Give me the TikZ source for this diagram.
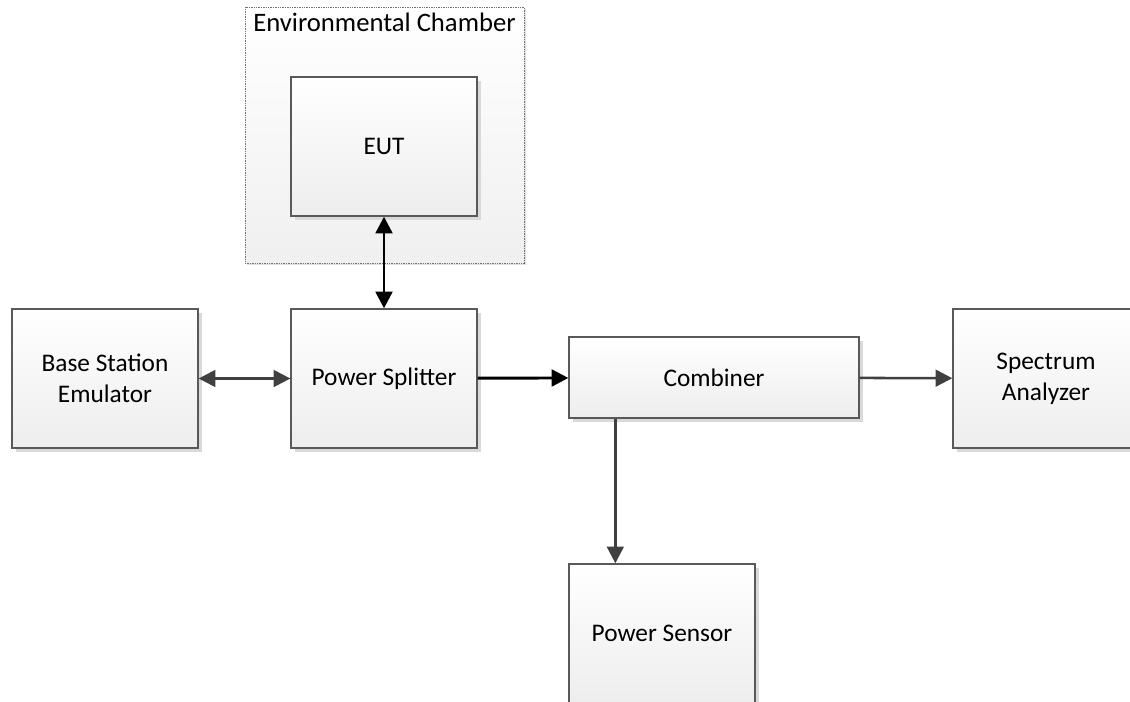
\documentclass[tikz,border=0pt]{standalone}
\usepackage{fontspec}
\setmainfont{Carlito}
\usetikzlibrary{positioning,arrows.meta,shadows}

\tikzset{
  block/.style={draw=black!65,line width=1pt,rectangle,align=center,
    minimum width=139.5pt,minimum height=104.25pt,
    top color=white,bottom color=black!7,
    drop shadow={shadow xshift=3pt,shadow yshift=-3pt,fill=black!15,opacity=1}},
  chamber/.style={draw=black!55,line width=0.6pt,dash pattern=on 1pt off 0.8pt,
    minimum width=209.25pt,minimum height=192pt,
    top color=white,bottom color=black!6,
    drop shadow={shadow xshift=1.5pt,shadow yshift=-1.5pt,fill=black!12,opacity=1}},
  link/.style={line width=2.2pt,black,-{Triangle[length=12.5pt,width=12.5pt]}},
  glink/.style={line width=1.9pt,black!75,-{Triangle[length=12.5pt,width=12.5pt]}}
}

\begin{document}
\begin{tikzpicture}[x=0.75pt,y=-0.75pt,font=\fontsize{19}{23}\selectfont]
        \useasboundingbox (0,0) rectangle (1130,702);
        \node[chamber] (env) at (384.5,135) {};
        \node[below=1pt of env.north,font=\fontsize{20}{24}\selectfont] (envlbl) {Environmental Chamber};
        \node[block] (eut) at (384,146.5) {EUT};
        \node[block] (split) at (384,378.5) {Power Splitter};
        \node[block] (bse) at (105,378.5) {Base Station\\Emulator};
        \node[block,minimum width=217.5pt,minimum height=60.75pt] (comb) at (714,377.5) {Combiner};
        \node[block] (spec) at (1046,378.5) {Spectrum\\Analyzer};
        \node[block] (sens) at (662,633.5) {Power Sensor};
        \coordinate (tap) at ([xshift=35.25pt]comb.south west);
        \draw[link,{Triangle[length=12.5pt,width=12.5pt]}-{Triangle[length=12.5pt,width=12.5pt]}] (eut) -- (split);
        \draw[glink,{Triangle[length=12.5pt,width=12.5pt]}-{Triangle[length=12.5pt,width=12.5pt]}] (bse) -- (split);
        \draw[link] (split) -- (comb);
        \draw[glink] (comb) -- (spec);
        \draw[glink] (tap) -- (tap |- sens.north);
    \end{tikzpicture}
\end{document}
